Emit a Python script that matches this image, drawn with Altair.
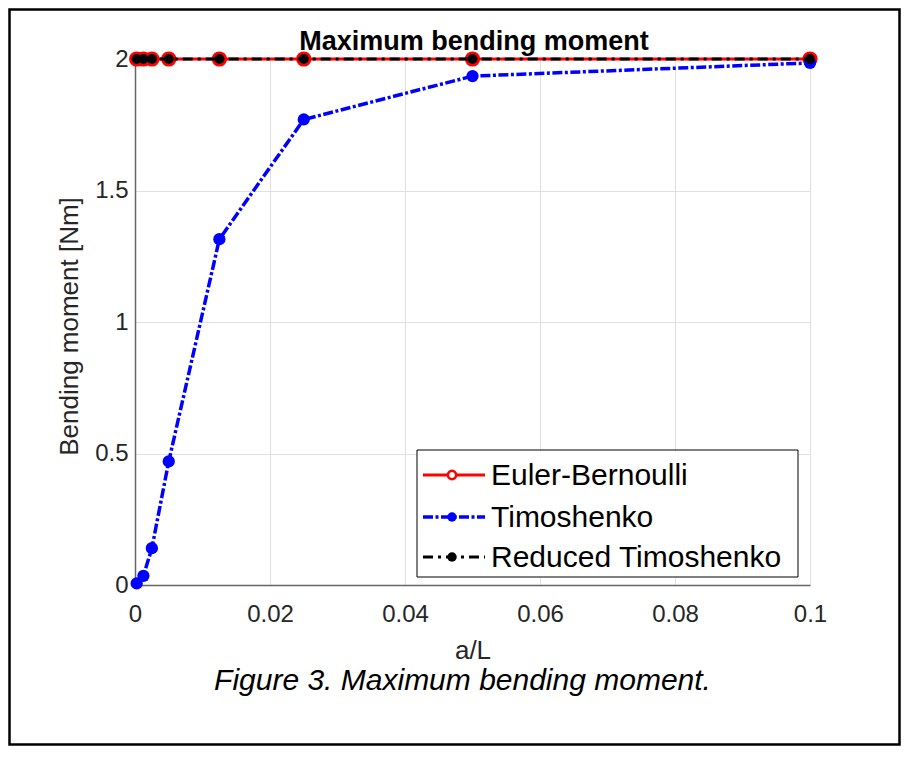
import altair as alt
import pandas as pd

# ---- data ----
a_over_L = [0.00025, 0.00125, 0.0025, 0.005, 0.0125, 0.025, 0.05, 0.1]
euler_bernoulli = [2, 2, 2, 2, 2, 2, 2, 2]
timoshenko = [0.006, 0.035, 0.14, 0.47, 1.315, 1.77, 1.935, 1.985]
reduced_timoshenko = [2, 2, 2, 2, 2, 2, 2, 2]
series_names = ["Euler-Bernoulli", "Timoshenko", "Reduced Timoshenko"]
x_ticks = [0, 0.02, 0.04, 0.06, 0.08, 0.1]
y_ticks = [0, 0.5, 1, 1.5, 2]
chart_title = "Maximum bending moment"
caption = "Figure 3. Maximum bending moment."

rows = []
for name, vals in zip(series_names, [euler_bernoulli, timoshenko, reduced_timoshenko]):
    for xv, yv in zip(a_over_L, vals):
        rows.append({"x": xv, "y": yv, "series": name})
df = pd.DataFrame(rows)
one = pd.DataFrame({"k": [0]})

FONT = "Liberation Sans"
W, H = 675, 526
RED, BLUE, BLACK = "#ff0000", "#0000ff", "#000000"
BLUE_DASH = [10, 2.5, 3, 2.5]
BLACK_DASH = [10, 5, 3, 5]

x_enc = alt.X(
    "x:Q",
    scale=alt.Scale(domain=[0, 0.1], nice=False, zero=False),
    axis=alt.Axis(values=x_ticks, format="~g", title="a/L",
                  labelBaseline="alphabetic", labelPadding=36, labelFlush=False,
                  titleBaseline="alphabetic", titleY=73),
)
y_enc = alt.Y(
    "y:Q",
    scale=alt.Scale(domain=[0, 2], nice=False),
    axis=alt.Axis(values=y_ticks, format="~g", title="Bending moment [Nm]",
                  labelPadding=7, labelFlush=False, titleX=-58, titleY=267,
                  titleBaseline="alphabetic"),
)

base = alt.Chart(df)


def series(name):
    return base.transform_filter(alt.datum.series == name)


eb_line = series("Euler-Bernoulli").mark_line(color=RED, strokeWidth=3).encode(x=x_enc, y=y_enc)
eb_pts = series("Euler-Bernoulli").mark_point(
    shape="circle", filled=False, color=RED, strokeWidth=3, size=150, opacity=1
).encode(x=x_enc, y=y_enc)
ti_line = series("Timoshenko").mark_line(color=BLUE, strokeWidth=3.5, strokeDash=BLUE_DASH).encode(x=x_enc, y=y_enc)
ti_pts = series("Timoshenko").mark_circle(color=BLUE, size=150, opacity=1).encode(x=x_enc, y=y_enc)
rt_line = series("Reduced Timoshenko").mark_line(color=BLACK, strokeWidth=3, strokeDash=BLACK_DASH).encode(x=x_enc, y=y_enc)
rt_pts = series("Reduced Timoshenko").mark_circle(color=BLACK, size=100, opacity=1).encode(x=x_enc, y=y_enc)

# ---- legend (drawn inside the plot) ----
dec = alt.Chart(one)
leg_box = dec.mark_rect(fill="white", stroke="black", strokeWidth=1).encode(
    x=alt.value(282), x2=alt.value(663), y=alt.value(391), y2=alt.value(518))
leg_rows = [
    (series_names[0], 416, 426, dict(color=RED, strokeWidth=3), dict(shape="circle", filled=True, fill="white", stroke=RED, strokeWidth=2.5, size=70)),
    (series_names[1], 458, 468, dict(color=BLUE, strokeWidth=3.5, strokeDash=BLUE_DASH), dict(shape="circle", filled=True, fill=BLUE, stroke=BLUE, strokeWidth=0, size=90)),
    (series_names[2], 498, 508, dict(color=BLACK, strokeWidth=3, strokeDash=BLACK_DASH), dict(shape="circle", filled=True, fill=BLACK, stroke=BLACK, strokeWidth=0, size=90)),
]
leg_layers = [leg_box]
for label, ly, by, line_kw, pt_kw in leg_rows:
    leg_layers.append(dec.mark_rule(**line_kw).encode(x=alt.value(288), x2=alt.value(350), y=alt.value(ly)))
    leg_layers.append(dec.mark_point(opacity=1, **pt_kw).encode(x=alt.value(317), y=alt.value(ly)))
    leg_layers.append(dec.mark_text(text=label, font=FONT, fontSize=30, align="left",
                                    baseline="alphabetic", color="black").encode(
        x=alt.value(356), y=alt.value(by)))

title_txt = dec.mark_text(text=chart_title, font=FONT, fontSize=27, fontWeight="bold",
                          align="center", baseline="alphabetic", color="black").encode(
    x=alt.value(339), y=alt.value(-9))
caption_txt = dec.mark_text(text=caption, font=FONT, fontSize=30, fontStyle="italic",
                            align="center", baseline="alphabetic", color="black").encode(
    x=alt.value(327.5), y=alt.value(631))
frame = dec.mark_rect(filled=False, fill=None, stroke="black", strokeWidth=2.5).encode(
    x=alt.value(-125.5), x2=alt.value(764.5), y=alt.value(-49.5), y2=alt.value(685.5))

chart = alt.layer(
    eb_line, eb_pts, ti_line, ti_pts, rt_line, rt_pts,
    *leg_layers, title_txt, caption_txt, frame,
).properties(
    width=W, height=H,
    padding={"left": 127, "top": 51, "right": 91, "bottom": 161},
    autosize=alt.AutoSizeParams(type="none"),
    background="white",
).configure_view(stroke=None).configure_axis(
    labelFont=FONT, labelFontSize=24, labelColor="#262626",
    titleFont=FONT, titleFontSize=26, titleColor="#262626", titleFontWeight="normal",
    domainColor="#666666", domainWidth=1.5, ticks=False,
    grid=True, gridColor="#e0e0e0", gridWidth=1,
)

chart.save("out.html", embed_options={"renderer": "svg", "actions": False})
